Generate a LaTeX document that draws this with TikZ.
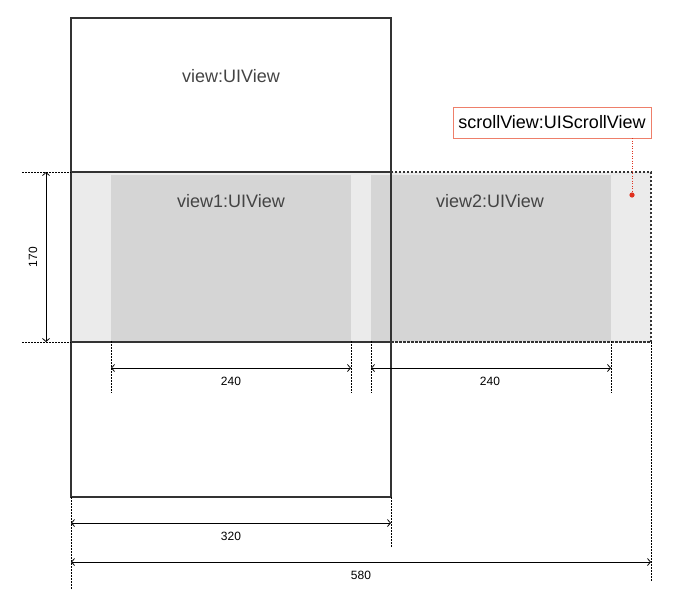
\documentclass[tikz,border=0pt]{standalone}
\usepackage{fontspec}
\setmainfont{Liberation Sans}
\usetikzlibrary{arrows.meta}
\definecolor{edgegray}{HTML}{333333}
\definecolor{bandgray}{HTML}{EBEBEB}
\definecolor{subgray}{HTML}{D5D5D5}
\definecolor{labelgray}{HTML}{444444}
\definecolor{callout}{HTML}{EE7F6A}
\definecolor{pinred}{HTML}{E0301E}
\begin{document}
\begin{tikzpicture}[x=1pt, y=-1pt,
	% Define the styles for the boxes and the dimensions
	every node/.style={inner sep=0pt, outer sep=0pt},
	box/.style={draw=edgegray, line width=1.5pt},
	dimline/.style={line width=0.8pt, {Straight Barb[length=3pt,width=7pt]}-{Straight Barb[length=3pt,width=7pt]}},
	extline/.style={line width=0.7pt, dash pattern=on 1.5pt off 1.5pt},
	dimtext/.style={font=\fontsize{12}{14}\selectfont},
	viewtext/.style={font=\fontsize{18}{21}\selectfont, text=labelgray}
	]
	\useasboundingbox (0,0) rectangle (690,600);
	
	% --- VIEWS ---
	% Format: \node (internal_name) at (x,y) [size] {};
	
	\node (scroll) at (361,257) [minimum width=580pt, minimum height=170pt, fill=bandgray, draw=edgegray, line width=1.6pt, dash pattern=on 2.5pt off 1.5pt] {};
	\node (view1) at (231,258) [minimum width=240pt, minimum height=166pt, fill=subgray] {};
	\node (view2) at (491,258) [minimum width=240pt, minimum height=166pt, fill=subgray] {};
	\node (window) at (231,257) [minimum width=320pt, minimum height=170pt, box] {};
	\node (view) at (231,257.5) [minimum width=320pt, minimum height=479pt, box] {};
	
	\node (viewLabel) at (231,76) [viewtext] {view:UIView};
	\node (view1Label) at (231,201) [viewtext] {view1:UIView};
	\node (view2Label) at (490,201) [viewtext] {view2:UIView};
	
	% --- CALLOUT ---
	\node (scrollLabel) at (552,122.5) [draw=callout, line width=1pt, minimum width=198pt, minimum height=31pt, font=\fontsize{18}{21}\selectfont] {scrollView:UIScrollView};
	\coordinate (pinTop) at (632,138);
	\coordinate (pin) at (632,195);
	\draw[pinred, line width=0.7pt, dash pattern=on 1pt off 1.5pt] (pinTop) -- (pin);
	\fill[pinred] (pin) circle (2.6);
	
	% --- EXTENSION LINES ---
	\coordinate (e170a) at (22,172);
	\coordinate (e170b) at (22,342);
	\coordinate (e111) at (111,393);
	\coordinate (e351) at (351,393);
	\coordinate (e371) at (371,393);
	\coordinate (e611) at (611,393);
	\coordinate (e391) at (391,548);
	\coordinate (e71) at (71,589);
	\coordinate (e651) at (651,582);
	
	\draw[extline] (e170a) -- (scroll.north west);
	\draw[extline] (e170b) -- (scroll.south west);
	\draw[extline] (view1.south west) -- (e111);
	\draw[extline] (view1.south east) -- (e351);
	\draw[extline] (view2.south west) -- (e371);
	\draw[extline] (view2.south east) -- (e611);
	\draw[extline] (view.south east) -- (e391);
	\draw[extline] (view.south west) -- (e71);
	\draw[extline] (scroll.south east) -- (e651);
	
	% --- DIMENSIONS ---
	\coordinate (d170a) at (46,172);
	\coordinate (d170b) at (46,342);
	\coordinate (d1a) at (111,368);
	\coordinate (d1b) at (351,368);
	\coordinate (d2a) at (371,368);
	\coordinate (d2b) at (611,368);
	\coordinate (d320a) at (71,523);
	\coordinate (d320b) at (391,523);
	\coordinate (d580a) at (71,562);
	\coordinate (d580b) at (651,562);
	
	\draw[dimline] (d170a) -- (d170b);
	\draw[dimline] (d1a) -- (d1b);
	\draw[dimline] (d2a) -- (d2b);
	\draw[dimline] (d320a) -- (d320b);
	\draw[dimline] (d580a) -- (d580b);
	
	\node (t170) at (33,257) [dimtext, rotate=90] {170};
	\node (t240a) at (231,381) [dimtext] {240};
	\node (t240b) at (490,381) [dimtext] {240};
	\node (t320) at (231,536) [dimtext] {320};
	\node (t580) at (361,575) [dimtext] {580};
	
\end{tikzpicture}
\end{document}
